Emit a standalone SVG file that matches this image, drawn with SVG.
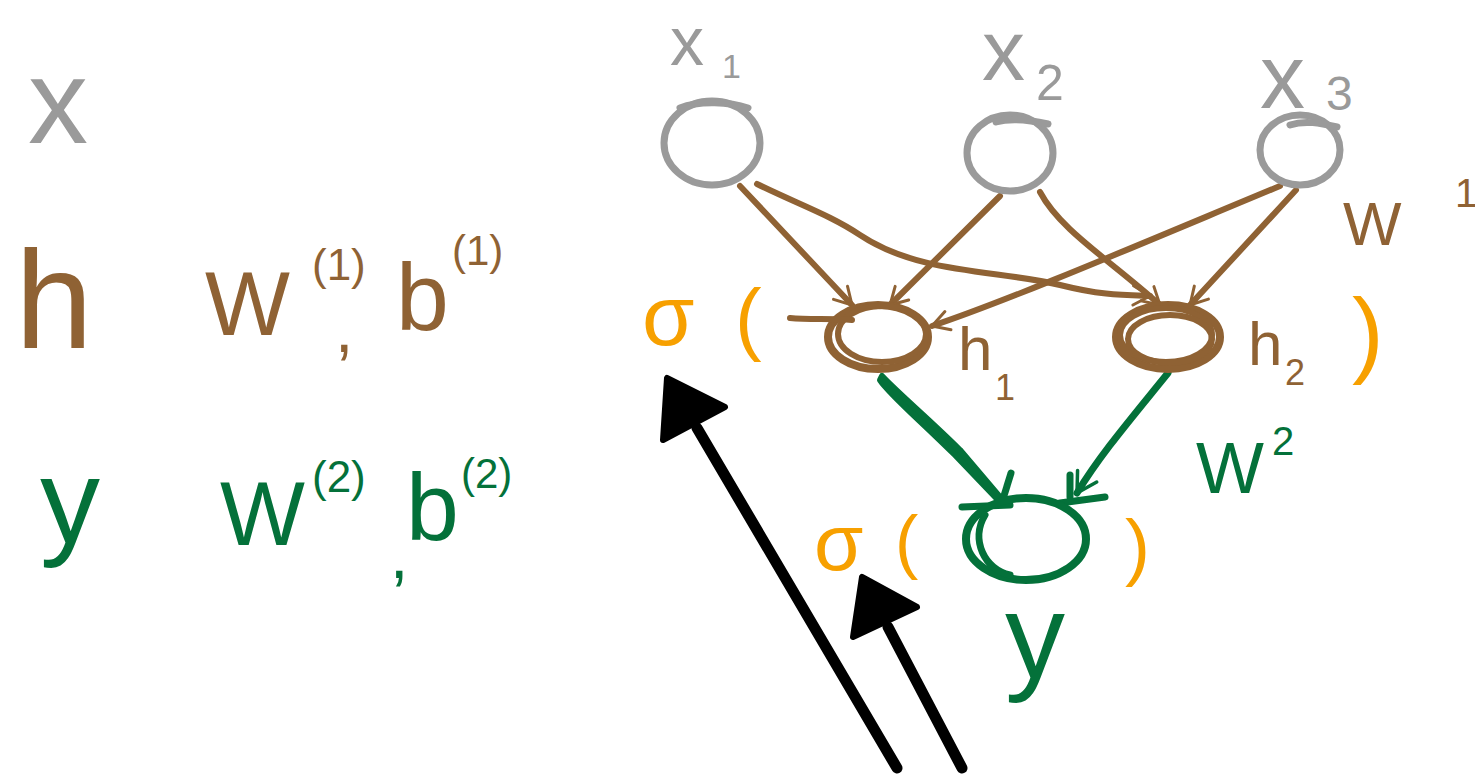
<svg xmlns="http://www.w3.org/2000/svg" width="1475" height="774" viewBox="0 0 1475 774">
<style>
text{font-family:"Liberation Sans","DejaVu Sans",sans-serif}
.g{fill:#9a9a9a}.b{fill:#8f6234}.gr{fill:#04713a}.o{fill:#f7a000}
.gn{fill:none;stroke:#9a9a9a;stroke-width:7;stroke-linecap:round}
.bn{fill:none;stroke:#8f6234;stroke-width:8;stroke-linecap:round}
.be{fill:none;stroke:#8f6234;stroke-width:6;stroke-linecap:round}
.ge{fill:none;stroke:#04713a;stroke-width:7;stroke-linecap:round}
.ka{fill:none;stroke:#000;stroke-width:11;stroke-linecap:round}
</style>
<defs>
<marker id="ab" viewBox="0 0 20 20" refX="17" refY="10" markerWidth="24" markerHeight="24" orient="auto" markerUnits="userSpaceOnUse"><path d="M3,2 L17,10 L3,18" fill="none" stroke="#8f6234" stroke-width="2.5" stroke-linecap="round"/></marker>
<marker id="ag" viewBox="0 0 20 20" refX="17" refY="10" markerWidth="28" markerHeight="28" orient="auto" markerUnits="userSpaceOnUse"><path d="M3,2 L17,10 L3,18" fill="none" stroke="#04713a" stroke-width="2.5" stroke-linecap="round"/></marker>
</defs>

<!-- left legend -->
<g id="legend">
<text class="g" x="28" y="143" font-size="120">x</text>
<text class="b" x="15" y="348" font-size="140">h</text>
<text class="b" x="205" y="335" font-size="90">W</text>
<text class="b" x="312" y="280" font-size="44">(1)</text>
<text class="b" x="335" y="352" font-size="66">,</text>
<text class="b" x="396" y="330" font-size="95">b</text>
<text class="b" x="452" y="265" font-size="42">(1)</text>
<text class="gr" x="40" y="543" font-size="120">y</text>
<text class="gr" x="220" y="545" font-size="90">W</text>
<text class="gr" x="312" y="492" font-size="44">(2)</text>
<text class="gr" x="390" y="578" font-size="66">,</text>
<text class="gr" x="406" y="540" font-size="95">b</text>
<text class="gr" x="461" y="488" font-size="42">(2)</text>
</g>

<!-- connectors -->
<g id="connectors">
<path class="be" d="M740,186 L852,305" marker-end="url(#ab)"/>
<path class="be" d="M757,184 C800,205 830,215 860,235 C920,275 1000,270 1060,285 C1100,295 1120,295 1150,296" marker-end="url(#ab)"/>
<path class="be" d="M1000,196 L890,305" marker-end="url(#ab)"/>
<path class="be" d="M1040,192 C1060,230 1110,260 1160,305" marker-end="url(#ab)"/>
<path class="be" d="M1280,186 C1150,240 1010,300 932,326" marker-end="url(#ab)"/>
<path class="be" d="M1296,190 L1190,305" marker-end="url(#ab)"/>
<path d="M882,376 C900,395 930,420 960,450 L1005,503 L998,500 L955,455 C920,420 890,395 880,380 Z" fill="#04713a" stroke="#04713a" stroke-width="6" stroke-linejoin="round"/>
<path class="ge" d="M1168,373 C1130,420 1100,455 1077,493" marker-end="url(#ag)"/>
<path class="ge" d="M1003,499 L1011,473"/>
<path class="ge" d="M1070,497 L1070,475"/>
<path class="ge" d="M962,507 L1010,505 M1060,503 L1105,497"/>
</g>

<!-- nodes -->
<g id="x1">
<ellipse class="gn" cx="712" cy="143" rx="48" ry="42"/>
<path class="gn" d="M680,108 C700,100 730,102 748,108"/>
<text class="g" x="670" y="65" font-size="68">x</text>
<text class="g" x="722" y="78" font-size="34">1</text>
</g>
<g id="x2">
<ellipse class="gn" cx="1010" cy="153" rx="43" ry="38"/>
<path class="gn" d="M996,122 C1010,118 1030,120 1048,124"/>
<text class="g" x="982" y="80" font-size="86">x</text>
<text class="g" x="1036" y="100" font-size="50">2</text>
</g>
<g id="x3">
<ellipse class="gn" cx="1300" cy="150" rx="40" ry="35"/>
<path class="gn" d="M1290,125 C1305,120 1320,123 1337,127"/>
<text class="g" x="1260" y="108" font-size="90">x</text>
<text class="g" x="1326" y="110" font-size="48">3</text>
</g>
<g id="h1">
<ellipse class="bn" cx="878" cy="337" rx="50" ry="32"/>
<ellipse class="be" cx="882" cy="334" rx="44" ry="28"/>
<path class="be" d="M790,318 C810,320 830,318 852,320"/>
<text class="b" x="958" y="370" font-size="62">h</text>
<text class="b" x="995" y="400" font-size="36">1</text>
</g>
<g id="h2">
<ellipse class="bn" cx="1168" cy="337" rx="52" ry="32"/>
<ellipse class="be" cx="1166" cy="335" rx="46" ry="27"/>
<ellipse class="be" cx="1170" cy="339" rx="42" ry="24"/>
<text class="b" x="1248" y="365" font-size="62">h</text>
<text class="b" x="1285" y="385" font-size="36">2</text>
</g>
<g id="y">
<ellipse cx="1026" cy="539" rx="60" ry="41" fill="none" stroke="#04713a" stroke-width="8"/>
<path class="ge" d="M985,515 C970,540 985,570 1010,575"/>
<text class="gr" x="1005" y="678" font-size="120">y</text>
</g>

<g id="labels">
<text class="o" x="642" y="345" font-size="85">σ</text>
<text class="o" x="735" y="345" font-size="80">(</text>
<text class="o" x="1352" y="365" font-size="95">)</text>
<text class="b" x="1343" y="245" font-size="62">W</text>
<text class="b" x="1455" y="207" font-size="40">1</text>
<text class="gr" x="1196" y="493" font-size="72">W</text>
<text class="gr" x="1272" y="455" font-size="40">2</text>
<text class="o" x="814" y="570" font-size="80">σ</text>
<text class="o" x="895" y="565" font-size="70">(</text>
<text class="o" x="1125" y="572" font-size="75">)</text>
</g>

<g id="arrows">
<path class="ka" d="M897,768 L697,428"/>
<path d="M667,378 L663,440 L725,407 Z" fill="#000" stroke="#000" stroke-width="6" stroke-linejoin="round"/>
<path class="ka" d="M962,768 L888,627"/>
<path d="M862,577 L853,637 L917,607 Z" fill="#000" stroke="#000" stroke-width="6" stroke-linejoin="round"/>
</g>
</svg>
